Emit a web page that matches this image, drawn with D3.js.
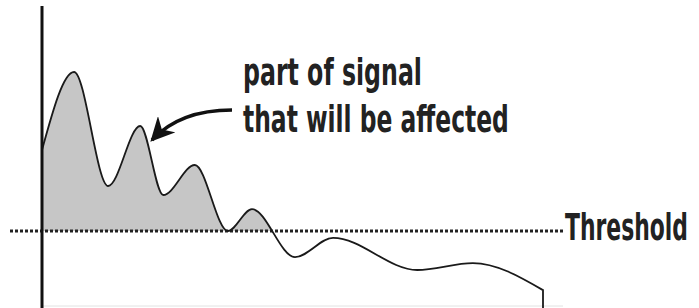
<!DOCTYPE html>
<html>
<head>
<meta charset="utf-8">
<script src="https://cdn.jsdelivr.net/npm/d3@7"></script>
<style>
  body { margin: 0; background: #fff; }
  svg { display: block; }
  .label { font-family: "DejaVu Sans Condensed", "Liberation Sans Narrow", sans-serif; font-weight: bold; fill: #222; }
</style>
</head>
<body>
<div id="chart"></div>
<script>
// signal sampled at its turning points (time, amplitude)
const times = [0, 6.4, 13.2, 19.6, 24.2, 30.5, 37.1, 41.9, 50.5, 58.1, 74.9, 86, 100];
const amplitudes = [52, 78, 40, 60, 37, 47, 25, 32.3, 16.3, 22.7, 12, 14.3, 5.3];
const threshold = 25;
const annotationLines = ['part of signal', 'that will be affected'];
const thresholdLabel = 'Threshold';

const width = 699, height = 308;

const x = d3.scaleLinear().domain([0, 100]).range([42, 543]);
const y = d3.scaleLinear().domain([0, 100]).range([306, 6]);

const signal = times.map((t, i) => ({ t, v: amplitudes[i] }));

const svg = d3.select('#chart').append('svg')
  .attr('width', width)
  .attr('height', height);

svg.append('clipPath').attr('id', 'above')
  .append('rect')
  .attr('x', 0).attr('y', 0)
  .attr('width', width).attr('height', y(threshold));

// faint baseline
svg.append('line')
  .attr('x1', x(0)).attr('x2', x(100) + 20)
  .attr('y1', y(0)).attr('y2', y(0))
  .attr('stroke', '#e2e2e2').attr('stroke-width', 1);

// shaded part above threshold
const area = d3.area()
  .x(d => x(d.t))
  .y0(y(threshold))
  .y1(d => y(d.v))
  .curve(d3.curveMonotoneX);

svg.append('path')
  .datum(signal)
  .attr('clip-path', 'url(#above)')
  .attr('d', area)
  .attr('fill', '#c6c6c6');

// threshold line
svg.append('line')
  .attr('x1', 10).attr('x2', x(100) + 20)
  .attr('y1', y(threshold)).attr('y2', y(threshold))
  .attr('stroke', '#222')
  .attr('stroke-width', 3)
  .attr('stroke-dasharray', '3 2');

// signal curve, with the drop at the end
const line = d3.line()
  .x(d => x(d.t))
  .y(d => y(d.v))
  .curve(d3.curveMonotoneX);

svg.append('path')
  .datum(signal)
  .attr('d', line(signal) + `L${x(100)},${height + 2}`)
  .attr('fill', 'none')
  .attr('stroke', '#1a1a1a')
  .attr('stroke-width', 1.8);

// vertical axis
svg.append('line')
  .attr('x1', x(0)).attr('x2', x(0))
  .attr('y1', 6).attr('y2', height + 2)
  .attr('stroke', '#111')
  .attr('stroke-width', 3);

// arrow pointing at the second peak
svg.append('defs').append('marker')
  .attr('id', 'head')
  .attr('viewBox', '0 0 10 10')
  .attr('refX', 9).attr('refY', 5)
  .attr('markerWidth', 24).attr('markerHeight', 24)
  .attr('markerUnits', 'userSpaceOnUse')
  .attr('orient', 'auto')
  .append('path')
  .attr('d', 'M0,0 L10,5 L0,10 L3,5 Z')
  .attr('fill', '#111');

svg.append('path')
  .attr('d', 'M232,110 Q180,110 152,140')
  .attr('fill', 'none')
  .attr('stroke', '#111')
  .attr('stroke-width', 3.5)
  .attr('marker-end', 'url(#head)');

// squeeze a label horizontally so it spans `w` pixels from (x0, y0)
function condensed(txt, x0, y0, w) {
  const t = svg.append('text')
    .attr('class', 'label')
    .attr('font-size', 37)
    .text(txt);
  const natural = t.node().getComputedTextLength();
  t.attr('transform', `translate(${x0},${y0}) scale(${w / natural},1)`);
  return t;
}

condensed(annotationLines[0], 243, 85, 179);
condensed(annotationLines[1], 243, 132, 266);
condensed(thresholdLabel, 565, 240, 123);
</script>
</body>
</html>
